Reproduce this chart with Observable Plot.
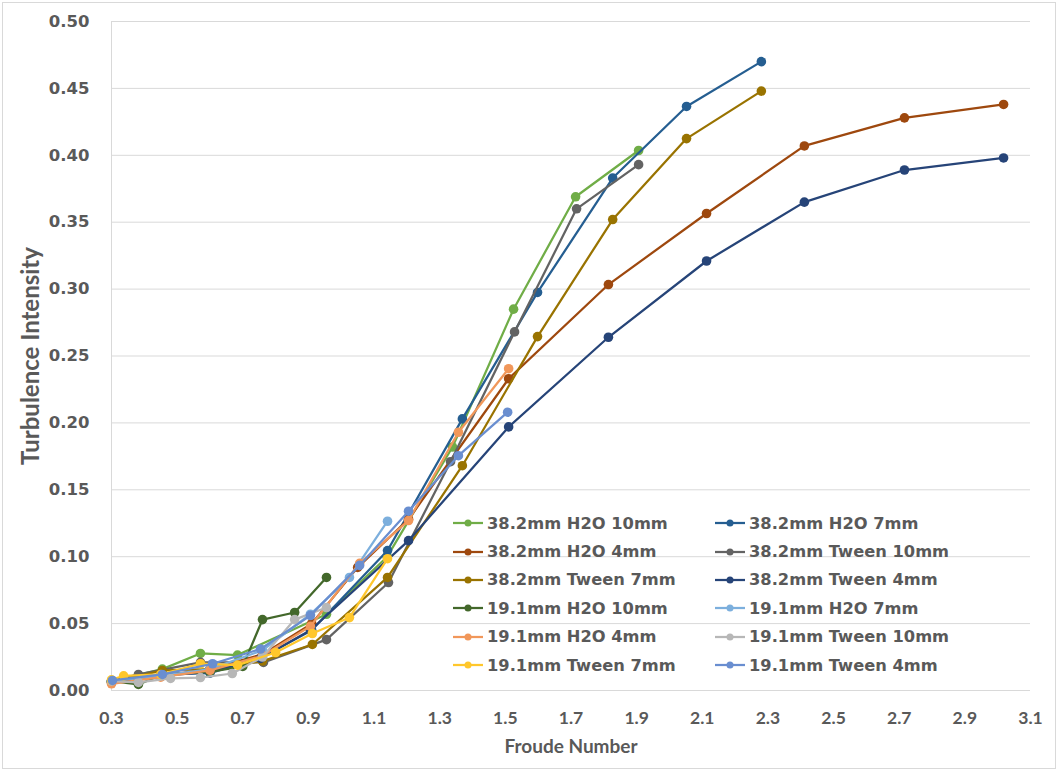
<!DOCTYPE html>
<html>
<head>
<meta charset="utf-8">
<script src="https://cdn.jsdelivr.net/npm/d3@7"></script>
<script src="https://cdn.jsdelivr.net/npm/@observablehq/plot@0.6"></script>
<style>
  html, body { margin: 0; padding: 0; background: #fff; }
  #wrap { position: relative; width: 1058px; height: 770px; overflow: hidden; }
  #frame { position: absolute; left: 2px; top: 2px; width: 1052px; height: 765px; border: 1px solid #d9d9d9; pointer-events: none; }
  #legend { position: absolute; left: 453px; top: 509px; display: grid; grid-template-columns: 262px 262px; grid-auto-rows: 28.4px;
            font-family: "DejaVu Sans", sans-serif; font-weight: bold; font-size: 16.3px; color: #595959; }
  .item { display: flex; align-items: center; white-space: nowrap; }
  .item svg { margin-right: 4px; flex: none; }
</style>
</head>
<body>
<div id="wrap"><div id="chart"></div><div id="legend"></div><div id="frame"></div></div>
<script>
// ---- data ----
const seriesNames = [
  "38.2mm H2O 10mm", "38.2mm H2O 7mm", "38.2mm H2O 4mm",
  "38.2mm Tween 10mm", "38.2mm Tween 7mm", "38.2mm Tween 4mm",
  "19.1mm H2O 10mm", "19.1mm H2O 7mm", "19.1mm H2O 4mm",
  "19.1mm Tween 10mm", "19.1mm Tween 7mm", "19.1mm Tween 4mm"
];
const seriesColors = [
  "#70AD47", "#255E91", "#9E480E",
  "#636363", "#997300", "#264478",
  "#43682B", "#7CAFDD", "#F1975A",
  "#B7B7B7", "#FFC72C", "#698ED0"
];

const fr_382_h2o_10 = [0.30, 0.455, 0.571, 0.684, 0.955, 1.14, 1.339, 1.525, 1.714, 1.906];
const ti_382_h2o_10 = [0.007, 0.016, 0.0277, 0.0265, 0.057, 0.100, 0.182, 0.285, 0.369, 0.4036];

const fr_382_h2o_7 = [0.30, 0.45, 0.60, 0.76, 0.91, 1.141, 1.369, 1.598, 1.827, 2.052, 2.28];
const ti_382_h2o_7 = [0.007, 0.012, 0.013, 0.025, 0.045, 0.1046, 0.203, 0.2975, 0.383, 0.4365, 0.470];

const fr_382_h2o_4 = [0.30, 0.45, 0.60, 0.76, 0.91, 1.05, 1.205, 1.51, 1.814, 2.113, 2.411, 2.716, 3.018];
const ti_382_h2o_4 = [0.006, 0.011, 0.016, 0.027, 0.050, 0.092, 0.128, 0.233, 0.3034, 0.3565, 0.407, 0.428, 0.438];

const fr_382_tw_10 = [0.30, 0.382, 0.571, 0.763, 0.955, 1.144, 1.333, 1.528, 1.717, 1.906];
const ti_382_tw_10 = [0.007, 0.012, 0.021, 0.021, 0.038, 0.0807, 0.171, 0.268, 0.360, 0.393];

const fr_382_tw_7 = [0.30, 0.455, 0.60, 0.76, 0.912, 1.141, 1.369, 1.598, 1.827, 2.052, 2.28];
const ti_382_tw_7 = [0.006, 0.015, 0.016, 0.022, 0.0344, 0.0845, 0.168, 0.2645, 0.352, 0.4125, 0.448];

const fr_382_tw_4 = [0.30, 0.45, 0.60, 0.754, 0.906, 1.205, 1.51, 1.814, 2.113, 2.411, 2.716, 3.018];
const ti_382_tw_4 = [0.007, 0.011, 0.014, 0.024, 0.045, 0.112, 0.197, 0.264, 0.321, 0.365, 0.389, 0.398];

const fr_191_h2o_10 = [0.30, 0.382, 0.455, 0.60, 0.70, 0.76, 0.858, 0.955];
const ti_191_h2o_10 = [0.007, 0.0045, 0.012, 0.014, 0.018, 0.053, 0.0583, 0.0845];

const fr_191_h2o_7 = [0.30, 0.45, 0.60, 0.76, 0.906, 1.025, 1.141];
const ti_191_h2o_7 = [0.007, 0.011, 0.016, 0.030, 0.057, 0.0845, 0.1265];

const fr_191_h2o_4 = [0.30, 0.45, 0.60, 0.76, 0.906, 1.056, 1.205, 1.357, 1.51];
const ti_191_h2o_4 = [0.005, 0.010, 0.015, 0.026, 0.048, 0.095, 0.127, 0.193, 0.2405];

const fr_191_tw_10 = [0.30, 0.382, 0.48, 0.571, 0.668, 0.76, 0.858, 0.955];
const ti_191_tw_10 = [0.007, 0.006, 0.009, 0.0097, 0.0127, 0.025, 0.053, 0.062];

const fr_191_tw_7 = [0.30, 0.337, 0.45, 0.571, 0.684, 0.80, 0.912, 1.025, 1.141];
const ti_191_tw_7 = [0.008, 0.011, 0.012, 0.020, 0.019, 0.0284, 0.0426, 0.0545, 0.0985];

const fr_191_tw_4 = [0.303, 0.455, 0.608, 0.754, 0.906, 1.056, 1.205, 1.357, 1.507];
const ti_191_tw_4 = [0.0075, 0.012, 0.020, 0.031, 0.056, 0.0935, 0.134, 0.1755, 0.208];

const xTicks = [0.3, 0.5, 0.7, 0.9, 1.1, 1.3, 1.5, 1.7, 1.9, 2.1, 2.3, 2.5, 2.7, 2.9, 3.1];
const yTicks = [0, 0.05, 0.10, 0.15, 0.20, 0.25, 0.30, 0.35, 0.40, 0.45, 0.50];
const xLabel = "Froude Number";
const yLabel = "Turbulence Intensity";

// ---- build ----
const xs = [fr_382_h2o_10, fr_382_h2o_7, fr_382_h2o_4, fr_382_tw_10, fr_382_tw_7, fr_382_tw_4,
            fr_191_h2o_10, fr_191_h2o_7, fr_191_h2o_4, fr_191_tw_10, fr_191_tw_7, fr_191_tw_4];
const ys = [ti_382_h2o_10, ti_382_h2o_7, ti_382_h2o_4, ti_382_tw_10, ti_382_tw_7, ti_382_tw_4,
            ti_191_h2o_10, ti_191_h2o_7, ti_191_h2o_4, ti_191_tw_10, ti_191_tw_7, ti_191_tw_4];

const seriesMarks = [];
seriesNames.forEach((name, i) => {
  const data = xs[i].map((x, j) => ({x, y: ys[i][j], s: name}));
  seriesMarks.push(Plot.line(data, {x: "x", y: "y", stroke: seriesColors[i], strokeWidth: 2.25}));
  seriesMarks.push(Plot.dot(data, {x: "x", y: "y", fill: seriesColors[i], r: 4.8}));
});

const chart = Plot.plot({
  width: 1058,
  height: 770,
  marginLeft: 111,
  marginRight: 28,
  marginTop: 21,
  marginBottom: 80,
  style: {background: "transparent", overflow: "visible"},
  x: {domain: [0.3, 3.1]},
  y: {domain: [0, 0.5]},
  marks: [
    Plot.gridY(yTicks, {stroke: "#d9d9d9", strokeOpacity: 1, strokeWidth: 1}),
    Plot.ruleX([0.3], {stroke: "#d9d9d9", strokeWidth: 1}),
    Plot.ruleY([0], {stroke: "#d9d9d9", strokeWidth: 1}),
    Plot.axisY(yTicks, {tickSize: 0, tickPadding: 22, tickFormat: d => d.toFixed(2), label: null,
      fontFamily: "DejaVu Sans", fontWeight: "bold", fontSize: 16.5, fill: "#595959"}),
    Plot.axisX(xTicks, {tickSize: 0, tickPadding: 21, tickFormat: d => d.toFixed(1), label: null,
      fontFamily: "Lato", fontWeight: "bold", fontSize: 17.5, fill: "#595959"}),
    Plot.text([yLabel], {text: d => d, frameAnchor: "left", textAnchor: "middle", dx: -80, rotate: -90,
      fontFamily: "Lato", fontWeight: "bold", fontSize: 24, fill: "#595959"}),
    Plot.text([xLabel], {text: d => d, frameAnchor: "bottom", dy: 62,
      fontFamily: "Lato", fontWeight: "bold", fontSize: 19, fill: "#595959"}),
    ...seriesMarks
  ]
});
document.getElementById("chart").appendChild(chart);

// legend (row-major, two columns)
const legend = document.getElementById("legend");
seriesNames.forEach((name, i) => {
  const item = document.createElement("div");
  item.className = "item";
  const c = seriesColors[i];
  item.innerHTML = `<svg width="30" height="10"><line x1="0" y1="5" x2="30" y2="5" stroke="${c}" stroke-width="2.25"/><circle cx="15" cy="5" r="3.5" fill="${c}"/></svg><span>${name}</span>`;
  legend.appendChild(item);
});
</script>
</body>
</html>
